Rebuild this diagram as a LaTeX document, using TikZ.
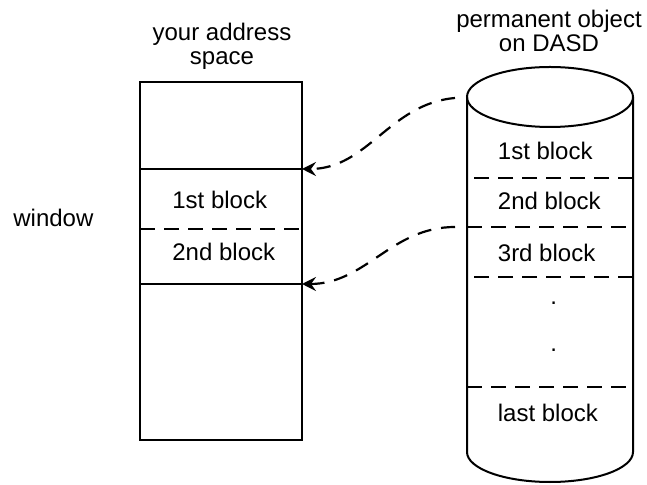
\documentclass[tikz,border=0pt]{standalone}
\usepackage{fontspec}
\setmainfont{Liberation Sans}
\usetikzlibrary{positioning,arrows.meta}

\begin{document}
\begin{tikzpicture}[x=0.5pt, y=-0.5pt,
        cell/.style={draw, line width=1pt, minimum width=81pt, inner sep=0pt, outer sep=0pt},
        lbl/.style={font=\fontsize{12}{12}\selectfont, inner sep=0pt, anchor=base west},
        ttl/.style={font=\fontsize{12}{12}\selectfont, inner sep=0pt, anchor=base, align=center},
        sep/.style={line width=1pt, dash pattern=on 7.5pt off 4.5pt},
        link/.style={line width=1.1pt, dash pattern=on 7pt off 5pt, -{Stealth[length=7pt, width=7pt, inset=2.5pt]}}
    ]
    \useasboundingbox (0,0) rectangle (647,485);

    % ---- YOUR ADDRESS SPACE ----
    \node[ttl] (spacettl) at (222,65) {your address\\space};
    \node[cell, minimum height=43.5pt] (upper) at (221,125.5) {};
    \node[cell, minimum height=57.5pt, below=0pt of upper] (window) {};
    \node[cell, minimum height=78pt, below=0pt of window] (lower) {};
    \draw[sep] ([yshift=-1.25pt]window.west) -- ([yshift=-1.25pt]window.east);
    \node[lbl] (wfirst) at (172,209) {1st block};
    \node[lbl] (wsecond) at (172,261) {2nd block};
    \node[lbl] (wlabel) at (13,227) {window};

    % ---- PERMANENT OBJECT ON DASD ----
    \node[ttl] (dasdttl) at (549,52) {permanent object\\on DASD};
    \coordinate (dasdNW) at (467,97);
    \coordinate (dasdNE) at (633,97);
    \draw[line width=1pt] (dasdNW) -- (467,452) arc[start angle=180, end angle=0, x radius=83, y radius=30] -- (dasdNE);
    \draw[line width=1pt] (550,97) ellipse[x radius=83, y radius=30];
    \foreach \yy/\xa/\xb in {178/633/467, 227/467/633, 277/633/467, 387/467/633}
        \draw[sep] (\xa,\yy) -- (\xb,\yy);
    \node[lbl] (dfirst) at (497.5,160) {1st block};
    \node[lbl] (dsecond) at (497.5,210) {2nd block};
    \node[lbl] (dthird) at (497.5,262) {3rd block};
    \node[lbl] (dgapA) at (550,305) {.};
    \node[lbl] (dgapB) at (550,352) {.};
    \node[lbl] (dlast) at (497.5,422) {last block};

    % ---- MAPPING ----
    \coordinate (srcA) at (455,98);
    \coordinate (srcB) at (455,227);
    \draw[link] (srcA) to[out=185, in=0] (window.north east);
    \draw[link] (srcB) to[out=180, in=0] (window.south east);
\end{tikzpicture}
\end{document}
